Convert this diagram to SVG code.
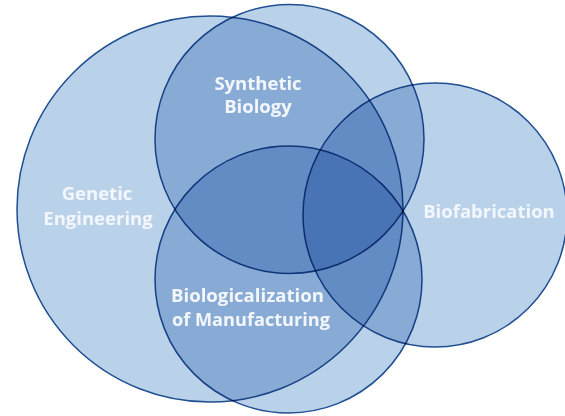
<svg xmlns="http://www.w3.org/2000/svg" width="565" height="416" viewBox="0 0 565 416">
<style>
.c{fill:#bad1ea;stroke:#1f4f90;stroke-width:1.5;mix-blend-mode:multiply}
.t{font-family:"Open Sans","Liberation Sans",sans-serif;font-weight:700;font-size:18.5px;fill:#f3f7fc;text-anchor:middle}
.l{text-anchor:start}
</style>
<rect width="565" height="416" fill="#ffffff"/>
<g id="genetic-engineering">
<circle class="c" cx="210" cy="209" r="193"/>
<text class="t" x="97" y="200">Genetic</text>
<text class="t" x="98" y="225">Engineering</text>
</g>
<g id="synthetic-biology">
<circle class="c" cx="289.5" cy="139" r="134.5"/>
<text class="t" x="258" y="90">Synthetic</text>
<text class="t" x="258" y="113">Biology</text>
</g>
<g id="biofabrication">
<circle class="c" cx="435" cy="215" r="132"/>
<text class="t" x="489" y="218">Biofabrication</text>
</g>
<g id="biologicalization">
<circle class="c" cx="288.5" cy="279.5" r="133.5"/>
<text class="t l" x="171" y="302" textLength="153" lengthAdjust="spacingAndGlyphs">Biologicalization</text>
<text class="t l" x="172" y="326" textLength="158" lengthAdjust="spacingAndGlyphs">of Manufacturing</text>
</g>
<g id="connectors"></g>
</svg>
